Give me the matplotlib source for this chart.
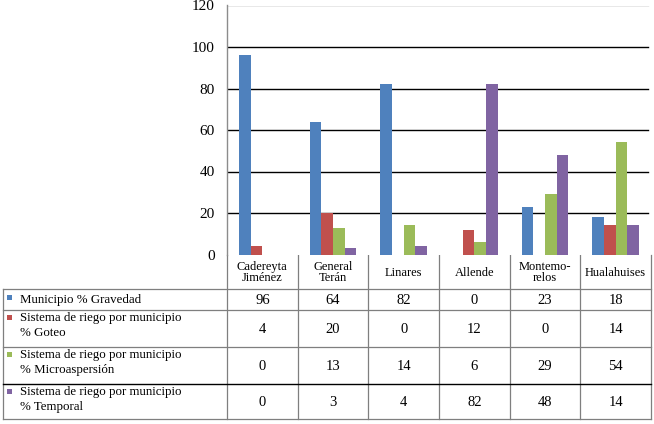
import matplotlib
matplotlib.use("Agg")
import matplotlib.pyplot as plt
import numpy as np

plt.rcParams['font.family'] = ['Liberation Serif', 'DejaVu Serif']

categories = ["Cadereyta\nJiménez", "General\nTerán", "Linares", "Allende", "Montemo-\nrelos", "Hualahuises"]
series_names = ["Municipio % Gravedad",
                "Sistema de riego por municipio\n% Goteo",
                "Sistema de riego por municipio\n% Microaspersión",
                "Sistema de riego por municipio\n% Temporal"]
gravedad = [96, 64, 82, 0, 23, 18]
goteo = [4, 20, 0, 12, 0, 14]
microaspersion = [0, 13, 14, 6, 29, 54]
temporal = [0, 3, 4, 82, 48, 14]
series = [gravedad, goteo, microaspersion, temporal]
colors = ["#4F81BD", "#C0504D", "#9BBB59", "#8064A2"]
yticks = [0, 20, 40, 60, 80, 100, 120]

W, H = 654, 424
fig = plt.figure(figsize=(W / 100, H / 100), dpi=100)

# plot area in pixel coordinates
ax_l, ax_r, ax_t, ax_b = 227, 651, 5.5, 254.5
ax = fig.add_axes([ax_l / W, 1 - ax_b / H, (ax_r - ax_l) / W, (ax_b - ax_t) / H])
n = len(categories)
x = np.arange(n)
bw = 0.166
for i, (vals, c) in enumerate(zip(series, colors)):
    ax.bar(x + (i - 1.5) * bw, vals, width=bw, color=c, zorder=3)
ax.set_xlim(-0.5, n - 0.5)
ax.set_ylim(0, 120)
ax.set_yticks(yticks)
ax.set_yticklabels([str(v) for v in yticks], fontsize=11)
ax.tick_params(axis='y', length=0, pad=9)
ax.set_xticks([])
for v in yticks[1:-1]:
    ax.axhline(v, color='black', lw=1.0, zorder=1, xmax=0.993)
ax.axhline(120, color='#8c8c8c', lw=1.0, zorder=1, xmax=0.993)
for s in ['top', 'right', 'bottom']:
    ax.spines[s].set_visible(False)
ax.spines['left'].set_color('#8c8c8c')
ax.spines['left'].set_linewidth(1.0)

# table overlay in pixel coordinates
tab = fig.add_axes([0, 0, 1, 1], zorder=-1)
tab.set_xlim(0, W)
tab.set_ylim(H, 0)
tab.axis('off')
tab.patch.set_alpha(0)

gray = '#7f7f7f'
col_w = (ax_r - ax_l) / n
col_edges = [ax_l + k * col_w for k in range(n + 1)]
row_edges = [289, 310, 347, 384, 419]
header_top = 254.5
left_x = 3

for k, xe in enumerate(col_edges):
    tab.plot([xe, xe], [header_top, row_edges[-1]], color=gray, lw=0.9)
tab.plot([left_x, left_x], [row_edges[0], row_edges[-1]], color=gray, lw=0.9)
for k, ye in enumerate(row_edges):
    c = 'black' if k == 3 else gray
    tab.plot([left_x, ax_r], [ye, ye], color=c, lw=1.0 if k == 3 else 0.9)

fs = 9
# header labels
for k, cat in enumerate(categories):
    cx = (col_edges[k] + col_edges[k + 1]) / 2
    tab.text(cx, (header_top + row_edges[0]) / 2 + 1, cat, ha='center', va='center',
             fontsize=fs, linespacing=0.85)

# rows
for r, (name, vals, c) in enumerate(zip(series_names, series, colors)):
    top, bot = row_edges[r], row_edges[r + 1]
    cy = (top + bot) / 2
    if '\n' in name:
        l1, l2 = name.split('\n')
        y1 = top + 8
        tab.text(20, y1, l1, ha='left', va='center', fontsize=fs + 0.3)
        tab.text(20, y1 + 15, l2, ha='left', va='center', fontsize=fs + 0.3)
        ky = y1 - 1
    else:
        tab.text(20, cy + 1, name, ha='left', va='center', fontsize=fs + 0.3)
        ky = cy - 2
    tab.add_patch(plt.Rectangle((7, ky - 2.5), 5, 5, color=c, lw=0))
    for k, v in enumerate(vals):
        cx = (col_edges[k] + col_edges[k + 1]) / 2
        tab.text(cx, cy + 1, str(v), ha='center', va='center', fontsize=fs + 1.5)

fig.savefig("out.png", dpi=100)
